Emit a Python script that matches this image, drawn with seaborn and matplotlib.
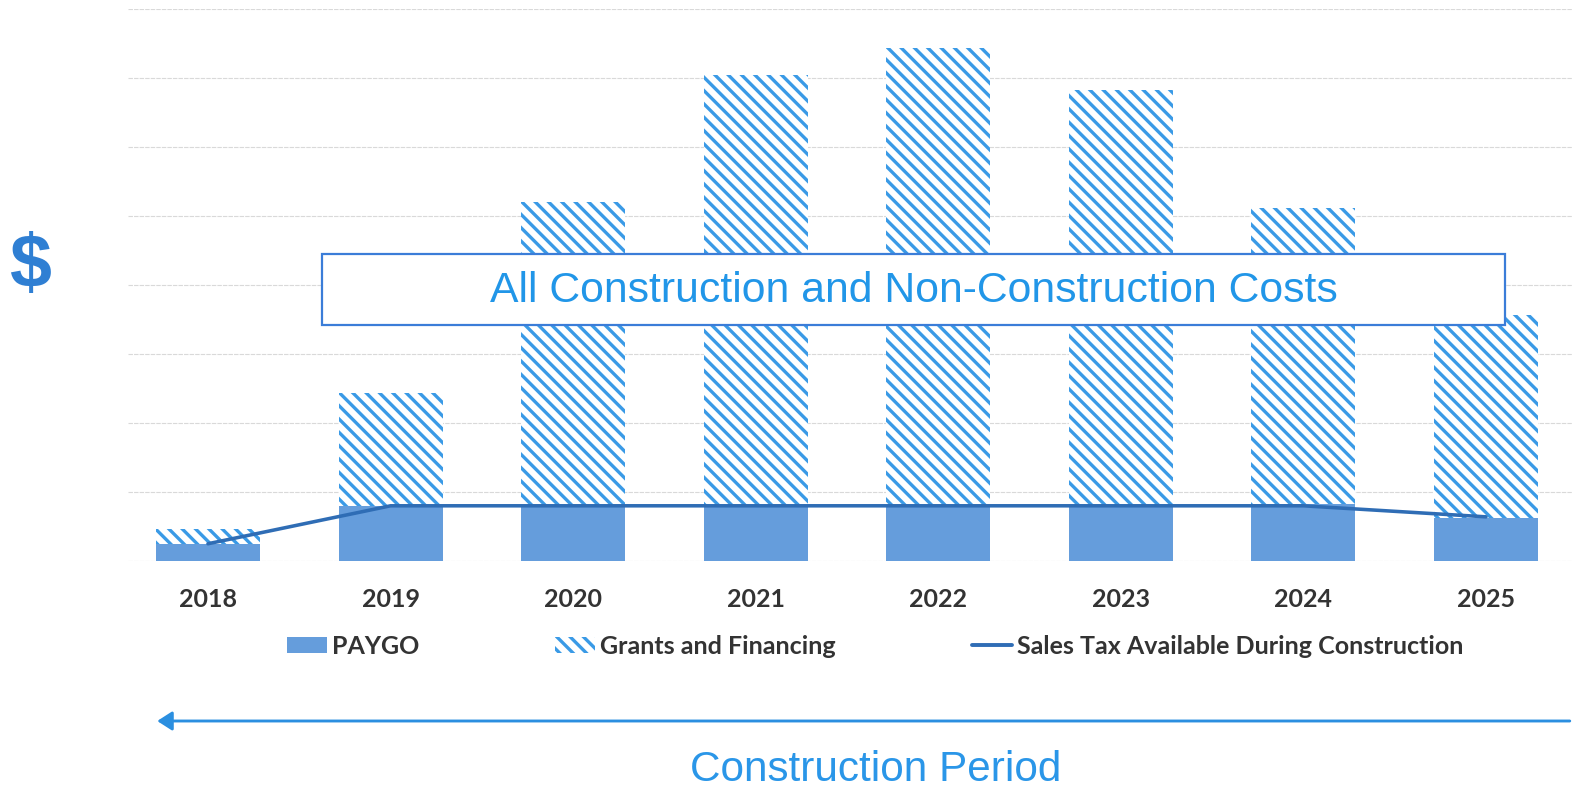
import numpy as np
import pandas as pd
import matplotlib
matplotlib.use("Agg")
import matplotlib.pyplot as plt
import seaborn as sns
from matplotlib.patches import Patch, Rectangle, FancyArrowPatch
from matplotlib.lines import Line2D

# ---- data (units = gridline steps) ----
years = ["2018", "2019", "2020", "2021", "2022", "2023", "2024", "2025"]
paygo = [0.24, 0.80, 0.80, 0.80, 0.81, 0.81, 0.82, 0.62]
grants = [0.22, 1.64, 4.40, 6.24, 6.62, 6.02, 4.30, 2.95]
sales_tax = [0.25, 0.80, 0.80, 0.80, 0.80, 0.80, 0.80, 0.64]
legend_labels = ["PAYGO", "Grants and Financing", "Sales Tax Available During Construction"]

total = [p + g for p, g in zip(paygo, grants)]
df = pd.DataFrame({"year": years, "paygo": paygo, "total": total, "sales": sales_tax})

# ---- style ----
PAYGO_C = "#659ddc"
HATCH_C = "#3a9ae6"
LINE_C = "#2f6db5"
TEXT_C = "#333333"
BLUE_TXT = "#2196e8"
HATCH = "\\\\"

sns.set_theme(style="white")
plt.rcParams["hatch.linewidth"] = 3.0
plt.rcParams["font.family"] = ["Lato", "DejaVu Sans"]

DPI = 80
fig = plt.figure(figsize=(1572 / DPI, 787 / DPI), dpi=DPI)
ax = fig.add_axes([128 / 1572, 1 - 561 / 787, 1 - 128 / 1572, (561 - 9) / 787])

# hatched total bars (grants stacked on top of paygo)
sns.barplot(data=df, x="year", y="total", ax=ax, color="white", saturation=1,
            width=0.57, linewidth=0, edgecolor=HATCH_C, hatch=HATCH, zorder=2)
for p in ax.patches:
    p.set_edgecolor(HATCH_C)
    p.set_facecolor("white")
    p.set_hatch(HATCH)
    p.set_linewidth(0)
n_h = len(ax.patches)
# solid paygo bars
sns.barplot(data=df, x="year", y="paygo", ax=ax, color=PAYGO_C, saturation=1,
            width=0.57, linewidth=0, zorder=3)
for p in ax.patches[n_h:]:
    p.set_facecolor(PAYGO_C)
    p.set_hatch(None)
    p.set_linewidth(0)
# sales tax line
sns.pointplot(data=df, x="year", y="sales", ax=ax, color=LINE_C, marker="",
              linewidth=3.2, zorder=4)

ax.set_ylim(0, 8)
ax.set_xlim(-0.438, 7.471)
ax.set_yticks(np.arange(0, 9, 1))
ax.set_yticklabels([])
ax.grid(axis="y", color="#d9d9d9", linewidth=1.0, linestyle=(0, (4, 1)))
ax.set_axisbelow(True)
for s in ax.spines.values():
    s.set_visible(False)
ax.set_xlabel("")
ax.set_ylabel("")
ax.tick_params(axis="x", length=0, pad=24, labelsize=22.5, labelcolor=TEXT_C)
ax.tick_params(axis="y", length=0)
for t in ax.get_xticklabels():
    t.set_fontweight("bold")

# legend
handles = [
    Patch(facecolor=PAYGO_C, edgecolor="none"),
    Patch(facecolor="white", edgecolor=HATCH_C, hatch=HATCH, linewidth=0),
    Line2D([0], [0], color=LINE_C, linewidth=3.5),
]
leg = fig.legend(handles, legend_labels, loc="center", bbox_to_anchor=(875 / 1572, 1 - 646 / 787),
                 ncol=3, frameon=False, handlelength=1.6, handleheight=0.6,
                 handletextpad=0.2, columnspacing=5.45,
                 prop={"family": ["Lato", "DejaVu Sans"], "weight": "bold", "size": 22.5})
for t in leg.get_texts():
    t.set_color(TEXT_C)

# annotation box
box = Rectangle((322 / 1572, 1 - 325 / 787), (1505 - 322) / 1572, 71 / 787,
                transform=fig.transFigure, facecolor="white", edgecolor="#3b7dd8",
                linewidth=2.0, zorder=10)
fig.add_artist(box)
fig.text(913.5 / 1572, 1 - 291 / 787, "All Construction and Non-Construction Costs",
         ha="center", va="center", fontsize=38.5, color=BLUE_TXT,
         family=["Liberation Sans", "DejaVu Sans"], zorder=11)

# $ label
fig.text(30 / 1572, 1 - 268 / 787, "$", ha="center", va="center", fontsize=68,
         fontweight="bold", color="#2f7fd3", family=["Liberation Sans", "DejaVu Sans"])

# construction period arrow
fig.add_artist(FancyArrowPatch(
    (1.0, 1 - 721 / 787), (155 / 1572, 1 - 721 / 787), transform=fig.transFigure,
    arrowstyle="-|>,head_length=0.7,head_width=0.45", mutation_scale=16,
    color="#2b8fe0", linewidth=2.6))
fig.text(876 / 1572, -0.004, "Construction Period", ha="center", va="bottom",
         fontsize=38, color="#2a96e8", family=["Liberation Sans", "DejaVu Sans"])

fig.savefig("out.png", dpi=DPI)
